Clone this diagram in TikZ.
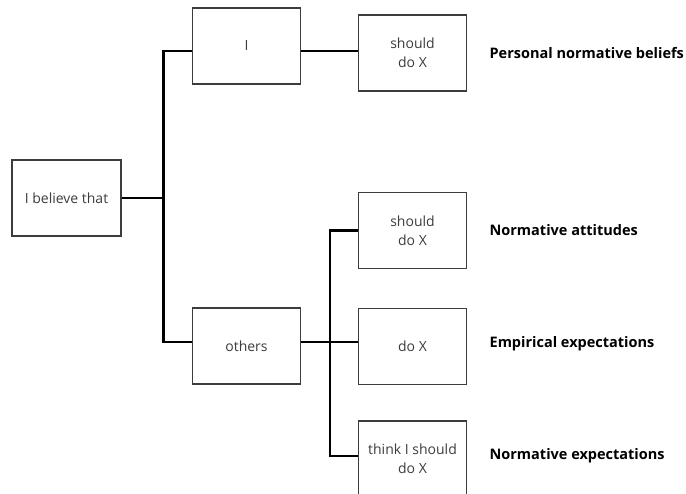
\documentclass[tikz,border=0pt]{standalone}
\usepackage{fontspec}
\setmainfont{Open Sans}
\usetikzlibrary{positioning}
\definecolor{boxgray}{RGB}{60,60,60}
\tikzset{
    choice/.style={rectangle, draw=boxgray, line width=1.2pt, minimum width=108pt, minimum height=76pt, align=center, text=boxgray, font=\fontsize{14}{19}\selectfont},
    branch/.style={draw, line width=2.5pt},
    category/.style={anchor=west, font=\bfseries\fontsize{14.5}{17}\selectfont}
}

\begin{document}
\begin{tikzpicture}[x=1pt, y=1pt, node distance=19pt]
    \useasboundingbox (0,0) rectangle (686,-494);

    \node[choice, minimum width=109pt] (believe) at (66.5,-198) {I believe that};
    \node[choice] (self) at (246.5,-46) {I};
    \node[choice] (others) at (246.5,-346) {others};

    \node[choice] (selfdo) at (412.5,-53) {should\\do X};
    \node[choice] (othshould) at (412.5,-230.5) {should\\do X};
    \node[choice] (othdo) at (412.5,-346.5) {do X};
    \node[choice] (oththink) at (412.5,-459) {think I should\\do X};

    \node[category, right=of selfdo] {Personal normative beliefs};
    \node[category, right=of othshould] {Normative attitudes};
    \node[category, right=of othdo, yshift=3pt] {Empirical expectations};
    \node[category, right=of oththink, yshift=3pt] {Normative expectations};

    % first split
    \draw[branch] (believe.east) -- ++(42,0) coordinate (fork);
    \draw[branch] ([yshift=-5pt]self.west) -| (fork) |- ([yshift=4pt]others.west);
    \draw[branch] ([yshift=-5pt]self.east) -- ([yshift=-5pt]self.east -| selfdo.west);

    % second split
    \draw[branch] ([yshift=4pt]others.east) -- ([yshift=4pt]others.east -| othdo.west);
    \coordinate (split) at ([xshift=29pt,yshift=4pt]others.east);
    \draw[branch] (othshould.west) -| (split) |- ([yshift=3pt]oththink.west);
\end{tikzpicture}
\end{document}
